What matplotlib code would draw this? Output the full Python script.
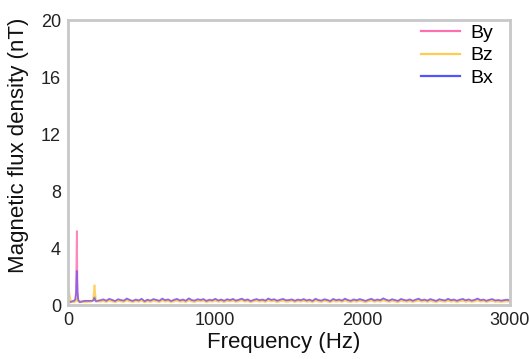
import numpy as np
import matplotlib
matplotlib.use("Agg")
import matplotlib.pyplot as plt

plt.rcParams['font.family'] = ['Liberation Sans', 'DejaVu Sans']

# Low-frequency samples (Hz) with the power-line spikes
freq_low = [0, 10, 20, 40, 50, 55, 60, 65, 70, 80, 100, 120, 160, 170, 175, 180, 185, 190, 200]
by_low = [0.35, 0.25, 0.20, 0.30, 0.40, 1.00, 5.20, 1.00, 0.35, 0.25, 0.30, 0.30, 0.30, 0.35, 0.40, 0.45, 0.35, 0.30, 0.30]
bz_low = [1.25, 0.80, 0.25, 0.20, 0.25, 0.30, 0.45, 0.30, 0.25, 0.20, 0.25, 0.20, 0.25, 0.35, 0.80, 1.40, 0.80, 0.35, 0.25]
bx_low = [0.25, 0.20, 0.25, 0.30, 0.40, 0.80, 2.40, 0.80, 0.35, 0.20, 0.25, 0.30, 0.30, 0.30, 0.40, 0.55, 0.35, 0.25, 0.30]

# Noise floor, 220 .. 3000 Hz every 20 Hz
freq_high = list(range(220, 3001, 20))
by_high = [0.32, 0.38, 0.29, 0.41, 0.35, 0.27, 0.39, 0.33, 0.30, 0.44, 0.34, 0.28, 0.37, 0.31, 0.42, 0.26,
           0.36, 0.30, 0.40, 0.35, 0.29, 0.43, 0.33, 0.38, 0.27, 0.35, 0.41, 0.31, 0.37, 0.29, 0.45, 0.34,
           0.30, 0.39, 0.35, 0.40, 0.28, 0.36, 0.32, 0.42, 0.31, 0.37, 0.29, 0.39, 0.34, 0.41, 0.30, 0.36,
           0.43, 0.32, 0.38, 0.27, 0.35, 0.40, 0.33, 0.37, 0.30, 0.44, 0.35, 0.39, 0.29, 0.36, 0.41, 0.32,
           0.34, 0.38, 0.29, 0.37, 0.33, 0.40, 0.31, 0.36, 0.28, 0.42, 0.34, 0.30, 0.39, 0.35, 0.27, 0.41,
           0.33, 0.37, 0.30, 0.43, 0.34, 0.29, 0.38, 0.32, 0.40, 0.35, 0.28, 0.36, 0.42, 0.31, 0.37, 0.33,
           0.45, 0.36, 0.30, 0.39, 0.34, 0.28, 0.41, 0.35, 0.31, 0.38, 0.29, 0.36, 0.43, 0.32, 0.37, 0.30,
           0.40, 0.34, 0.28, 0.39, 0.35, 0.31, 0.42, 0.33, 0.37, 0.29, 0.36, 0.41, 0.32, 0.38, 0.30, 0.35,
           0.44, 0.33, 0.37, 0.29, 0.36, 0.40, 0.31, 0.34, 0.30, 0.33, 0.36, 0.31]
bz_high = [0.24, 0.29, 0.21, 0.31, 0.26, 0.20, 0.30, 0.25, 0.22, 0.33, 0.25, 0.21, 0.28, 0.23, 0.32, 0.19,
           0.27, 0.22, 0.30, 0.26, 0.21, 0.32, 0.24, 0.29, 0.20, 0.26, 0.31, 0.23, 0.28, 0.21, 0.34, 0.25,
           0.22, 0.29, 0.26, 0.30, 0.20, 0.27, 0.24, 0.32, 0.23, 0.28, 0.21, 0.29, 0.25, 0.31, 0.22, 0.27,
           0.33, 0.24, 0.28, 0.20, 0.26, 0.30, 0.24, 0.28, 0.22, 0.33, 0.26, 0.29, 0.21, 0.27, 0.31, 0.23,
           0.25, 0.29, 0.21, 0.28, 0.24, 0.30, 0.23, 0.27, 0.20, 0.31, 0.25, 0.22, 0.29, 0.26, 0.20, 0.30,
           0.24, 0.28, 0.22, 0.32, 0.25, 0.21, 0.28, 0.23, 0.30, 0.26, 0.20, 0.27, 0.31, 0.23, 0.28, 0.24,
           0.33, 0.27, 0.22, 0.29, 0.25, 0.20, 0.30, 0.26, 0.23, 0.28, 0.21, 0.27, 0.32, 0.24, 0.28, 0.22,
           0.30, 0.25, 0.20, 0.29, 0.26, 0.23, 0.31, 0.24, 0.28, 0.21, 0.27, 0.30, 0.23, 0.28, 0.22, 0.26,
           0.32, 0.24, 0.28, 0.21, 0.27, 0.30, 0.23, 0.25, 0.22, 0.24, 0.27, 0.22]
bx_high = [0.35, 0.41, 0.31, 0.45, 0.37, 0.29, 0.42, 0.36, 0.32, 0.47, 0.36, 0.30, 0.40, 0.33, 0.45, 0.28,
           0.39, 0.32, 0.43, 0.37, 0.31, 0.46, 0.35, 0.41, 0.29, 0.38, 0.44, 0.33, 0.40, 0.31, 0.48, 0.36,
           0.32, 0.42, 0.37, 0.43, 0.30, 0.39, 0.34, 0.45, 0.33, 0.40, 0.31, 0.42, 0.36, 0.44, 0.32, 0.39,
           0.46, 0.34, 0.41, 0.29, 0.37, 0.43, 0.35, 0.40, 0.32, 0.47, 0.37, 0.42, 0.31, 0.39, 0.44, 0.34,
           0.36, 0.41, 0.31, 0.40, 0.35, 0.43, 0.33, 0.39, 0.30, 0.45, 0.36, 0.32, 0.42, 0.37, 0.29, 0.44,
           0.35, 0.40, 0.32, 0.46, 0.36, 0.31, 0.41, 0.34, 0.43, 0.37, 0.30, 0.39, 0.45, 0.33, 0.40, 0.35,
           0.48, 0.38, 0.32, 0.42, 0.36, 0.30, 0.44, 0.37, 0.33, 0.41, 0.31, 0.39, 0.46, 0.34, 0.40, 0.32,
           0.43, 0.36, 0.30, 0.42, 0.37, 0.33, 0.45, 0.35, 0.40, 0.31, 0.39, 0.44, 0.34, 0.41, 0.32, 0.37,
           0.47, 0.35, 0.40, 0.31, 0.38, 0.43, 0.33, 0.36, 0.32, 0.35, 0.39, 0.33]

freq = np.array(freq_low + freq_high)
By = np.array(by_low + by_high)
Bz = np.array(bz_low + bz_high)
Bx = np.array(bx_low + bx_high)

x_ticks = [0, 1000, 2000, 3000]
y_ticks = [0, 4, 8, 12, 16, 20]

fig = plt.figure(figsize=(5.29, 3.59), dpi=100)
ax = fig.add_axes([0.1285, 0.150, 0.8355, 0.794])

ax.plot(freq, By, color='#ff5fa8', lw=1.3, alpha=0.75, label='By')
ax.plot(freq, Bz, color='#ffc83a', lw=1.3, alpha=0.8, label='Bz')
ax.plot(freq, Bx, color='#4040ff', lw=1.3, alpha=0.55, label='Bx')

ax.set_xlim(0, 3000)
ax.set_ylim(0, 20)
ax.set_xticks(x_ticks)
ax.set_yticks(y_ticks)
ax.tick_params(length=0, labelsize=13, pad=5, colors='#222222')
for s in ax.spines.values():
    s.set_color('#c8c8c8')
    s.set_linewidth(2)

ax.set_xlabel('Frequency (Hz)', fontsize=16, color='#111111')
ax.xaxis.set_label_coords(0.487, -0.095)
ax.set_ylabel('Magnetic flux density (nT)', fontsize=16, color='#111111')
ax.yaxis.set_label_coords(-0.088, 0.56)

leg = ax.legend(loc='upper right', bbox_to_anchor=(0.962, 0.985), frameon=False,
                fontsize=14, handlelength=2.0, handletextpad=0.55, labelspacing=0.25,
                borderpad=0, borderaxespad=0)
for line in leg.get_lines():
    line.set_linewidth(1.6)
    line.set_alpha(0.9)

fig.savefig('out.png', dpi=100)
